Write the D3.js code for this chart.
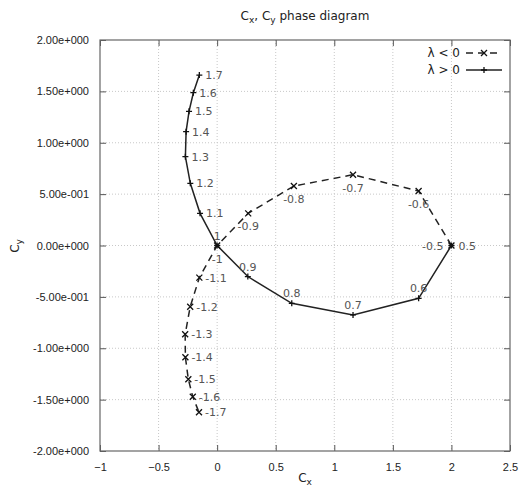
<!DOCTYPE html>
<html>
<head>
<meta charset="utf-8">
<script src="https://cdn.jsdelivr.net/npm/d3@7"></script>
<style>
    body { margin: 0; background: #fff; }
    svg { font-family: "DejaVu Sans", sans-serif; }
    .tick text { font-size: 11px; fill: #222; }
    .ptLabel { font-size: 11px; fill: #555; }
</style>
</head>
<body>
<svg id="phaseSVG" width="525" height="489"></svg>
<script>
//////////////////// DATA ////////////////////
// lambda < 0 branch (dashed)
const lambdaNeg = [-0.5, -0.6, -0.7, -0.8, -0.9, -1, -1.1, -1.2, -1.3, -1.4, -1.5, -1.6, -1.7];
const cxNeg = [2.0, 1.72, 1.16, 0.655, 0.265, 0, -0.152, -0.23, -0.273, -0.271, -0.246, -0.208, -0.155];
const cyNeg = [0, 0.53, 0.689, 0.579, 0.313, 0, -0.313, -0.596, -0.864, -1.088, -1.302, -1.472, -1.623];

// lambda > 0 branch (solid)
const lambdaPos = [0.5, 0.6, 0.7, 0.8, 0.9, 1, 1.1, 1.2, 1.3, 1.4, 1.5, 1.6, 1.7];
const cxPos = [2.0, 1.72, 1.16, 0.637, 0.262, 0, -0.146, -0.229, -0.271, -0.265, -0.24, -0.203, -0.152];
const cyPos = [0, -0.514, -0.676, -0.563, -0.302, 0, 0.313, 0.605, 0.864, 1.108, 1.306, 1.487, 1.659];

// ticks
const xTicks = [-1, -0.5, 0, 0.5, 1, 1.5, 2, 2.5];
const yTicks = [-2, -1.5, -1, -0.5, 0, 0.5, 1, 1.5, 2];

//////////////////// SIZES ////////////////////
const svg = d3.select("#phaseSVG");
const plot = { left: 100, right: 510, top: 40, bottom: 451 };

const xScale = d3.scaleLinear().domain([-1, 2.5]).range([plot.left, plot.right]);
const yScale = d3.scaleLinear().domain([-2, 2]).range([plot.bottom, plot.top]);

// gnuplot style number format, e.g. 5.00e-001
function sciFormat(v) {
    if (v === 0) return "0.00e+000";
    const e = Math.floor(Math.log10(Math.abs(v)));
    const m = v / Math.pow(10, e);
    const sign = e < 0 ? "-" : "+";
    return m.toFixed(2) + "e" + sign + String(Math.abs(e)).padStart(3, "0");
}

//////////////////// GRID ////////////////////
const grid = svg.append("g").attr("stroke", "#c8c8c8").attr("stroke-dasharray", "1,2").attr("stroke-width", 1);
grid.selectAll(".vg").data(xTicks.slice(1, -1)).enter().append("line")
    .attr("x1", d => xScale(d)).attr("x2", d => xScale(d))
    .attr("y1", plot.top).attr("y2", plot.bottom);
grid.selectAll(".hg").data(yTicks.slice(1, -1)).enter().append("line")
    .attr("x1", plot.left).attr("x2", plot.right)
    .attr("y1", d => yScale(d)).attr("y2", d => yScale(d));

//////////////////// AXES ////////////////////
// bottom / left with labels, inward ticks
const xAxis = d3.axisBottom(xScale).tickValues(xTicks).tickFormat(d3.format("")).tickSizeInner(-6).tickSizeOuter(0).tickPadding(12);
const yAxis = d3.axisLeft(yScale).tickValues(yTicks).tickFormat(sciFormat).tickSizeInner(-6).tickSizeOuter(0).tickPadding(11);
// mirrored ticks on top / right
const xAxisTop = d3.axisTop(xScale).tickValues(xTicks).tickFormat("").tickSizeInner(-6).tickSizeOuter(0);
const yAxisRight = d3.axisRight(yScale).tickValues(yTicks).tickFormat("").tickSizeInner(-6).tickSizeOuter(0);

svg.append("g").attr("transform", `translate(0,${plot.bottom})`).call(xAxis);
svg.append("g").attr("transform", `translate(${plot.left},0)`).call(yAxis);
svg.append("g").attr("transform", `translate(0,${plot.top})`).call(xAxisTop);
svg.append("g").attr("transform", `translate(${plot.right},0)`).call(yAxisRight);
svg.selectAll(".domain").remove();
svg.selectAll(".tick line").attr("stroke", "#555");

// border
svg.append("rect")
    .attr("x", plot.left).attr("y", plot.top)
    .attr("width", plot.right - plot.left).attr("height", plot.bottom - plot.top)
    .attr("fill", "none").attr("stroke", "#666").attr("stroke-width", 1.2);

//////////////////// TITLES ////////////////////
const title = svg.append("text").attr("x", 305).attr("y", 20).attr("text-anchor", "middle")
    .attr("font-size", 12).attr("fill", "#222");
title.append("tspan").text("C");
title.append("tspan").attr("font-size", 9).attr("dy", 3).text("x");
title.append("tspan").attr("dy", -3).text(", C");
title.append("tspan").attr("font-size", 9).attr("dy", 3).text("y");
title.append("tspan").attr("dy", -3).text(" phase diagram");

const xLabel = svg.append("text").attr("x", 305).attr("y", 482).attr("text-anchor", "middle")
    .attr("font-size", 12).attr("fill", "#222");
xLabel.append("tspan").text("C");
xLabel.append("tspan").attr("font-size", 9).attr("dy", 3).text("x");

const yLabel = svg.append("text").attr("transform", "translate(19,246) rotate(-90)").attr("text-anchor", "middle")
    .attr("font-size", 12).attr("fill", "#222");
yLabel.append("tspan").text("C");
yLabel.append("tspan").attr("font-size", 9).attr("dy", 3).text("y");

//////////////////// SERIES ////////////////////
const negData = lambdaNeg.map((l, i) => ({ l: l, x: cxNeg[i], y: cyNeg[i] }));
const posData = lambdaPos.map((l, i) => ({ l: l, x: cxPos[i], y: cyPos[i] }));

const line = d3.line().x(d => xScale(d.x)).y(d => yScale(d.y));

svg.append("path").datum(negData).attr("d", line)
    .attr("fill", "none").attr("stroke", "#222").attr("stroke-width", 1.5).attr("stroke-dasharray", "7,5");
svg.append("path").datum(posData).attr("d", line)
    .attr("fill", "none").attr("stroke", "#222").attr("stroke-width", 1.5);

// markers
const m = 3;
function crossPath(cx, cy) {   // "x"
    return `M${cx - m},${cy - m}L${cx + m},${cy + m}M${cx - m},${cy + m}L${cx + m},${cy - m}`;
}
function plusPath(cx, cy) {    // "+"
    return `M${cx - m},${cy}L${cx + m},${cy}M${cx},${cy - m}L${cx},${cy + m}`;
}
svg.selectAll(".negPt").data(negData).enter().append("path")
    .attr("d", d => crossPath(xScale(d.x), yScale(d.y))).attr("stroke", "#111").attr("stroke-width", 1.3);
svg.selectAll(".posPt").data(posData).enter().append("path")
    .attr("d", d => plusPath(xScale(d.x), yScale(d.y))).attr("stroke", "#111").attr("stroke-width", 1.3);

// point labels
function placeLabel(sel, d) {
    const px = xScale(d.x), py = yScale(d.y), a = Math.abs(d.l);
    if (a > 1.05) {
        sel.attr("x", px + 6).attr("y", py + 4).attr("text-anchor", "start");
    } else if (a < 0.55) {
        if (d.l > 0) sel.attr("x", px + 7).attr("y", py + 4).attr("text-anchor", "start");
        else sel.attr("x", px - 8).attr("y", py + 4).attr("text-anchor", "end");
    } else if (d.l > 0) {
        sel.attr("x", px).attr("y", py - 6).attr("text-anchor", "middle");
    } else {
        sel.attr("x", px).attr("y", py + 17).attr("text-anchor", "middle");
    }
}
svg.selectAll(".negLab").data(negData).enter().append("text").attr("class", "ptLabel")
    .text(d => String(d.l)).each(function (d) { placeLabel(d3.select(this), d); });
svg.selectAll(".posLab").data(posData).enter().append("text").attr("class", "ptLabel")
    .text(d => String(d.l)).each(function (d) { placeLabel(d3.select(this), d); });

//////////////////// LEGEND ////////////////////
const legend = svg.append("g").attr("font-size", 12).attr("fill", "#222");
const legendRows = [
    { text: "\u03bb < 0", dash: "7,5", marker: crossPath, y: 53 },
    { text: "\u03bb > 0", dash: null, marker: plusPath, y: 70 }
];
legendRows.forEach(r => {
    legend.append("text").attr("x", 460).attr("y", r.y + 4).attr("text-anchor", "end").text(r.text);
    legend.append("line").attr("x1", 466).attr("x2", 502).attr("y1", r.y).attr("y2", r.y)
        .attr("stroke", "#222").attr("stroke-width", 1.5).attr("stroke-dasharray", r.dash);
    legend.append("path").attr("d", r.marker(484, r.y)).attr("stroke", "#111").attr("stroke-width", 1.3);
});
</script>
</body>
</html>
